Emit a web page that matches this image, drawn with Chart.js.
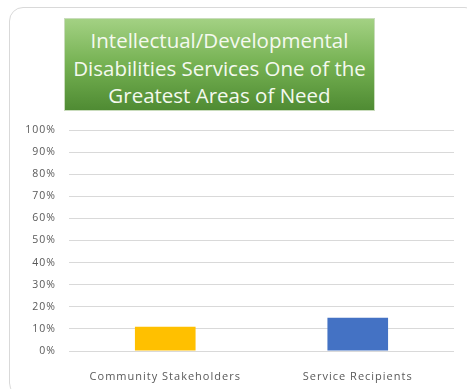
<!DOCTYPE html>
<html>
<head>
<meta charset="utf-8">
<script src="https://cdn.jsdelivr.net/npm/chart.js@4.4.1/dist/chart.umd.min.js"></script>
<style>
  html, body { margin: 0; padding: 0; background: #ffffff; }
  #wrap { position: relative; width: 467px; height: 389px; overflow: hidden; }
  #card {
    position: absolute; left: 9px; top: 7px; width: 470px; height: 390px;
    border: 1.5px solid #d9d9d9; border-radius: 14px; box-sizing: border-box;
  }
  #title {
    position: absolute; left: 64px; top: 18px; width: 311px; height: 93px;
    background: linear-gradient(to bottom, #a3d183 0%, #75b152 50%, #4f8b33 100%);
    border: 1px solid #c9dcbc; box-sizing: border-box;
    color: #f4f9ef; font-family: "Open Sans", sans-serif; font-size: 20.5px;
    line-height: 27.5px; text-align: center; padding-top: 8px; letter-spacing: 0px;
    white-space: nowrap;
  }
  #chart { position: absolute; left: 0; top: 0; }
</style>
</head>
<body>
<div id="wrap">
  <div id="card"></div>
  <div id="title">Intellectual/Developmental<br>Disabilities Services One of the<br>Greatest Areas of Need</div>
  <canvas id="chart" width="467" height="389"></canvas>
</div>
<script>
const categories = ["Community Stakeholders", "Service Recipients"];
const shareValues = [11, 15];
const barColors = ["#ffc000", "#4472c4"];
const yTicks = [0, 10, 20, 30, 40, 50, 60, 70, 80, 90, 100];

// Slightly open letter spacing for the axis labels
const spacedText = {
  id: "spacedText",
  beforeUpdate(chart) { chart.ctx.letterSpacing = "1px"; },
  beforeLayout(chart) { chart.ctx.letterSpacing = "1px"; },
  beforeDraw(chart) { chart.ctx.letterSpacing = "1px"; }
};

new Chart(document.getElementById("chart"), {
  type: "bar",
  data: {
    labels: categories,
    datasets: [{
      data: shareValues,
      backgroundColor: barColors,
      borderWidth: 0,
      categoryPercentage: 1,
      barPercentage: 0.315
    }]
  },
  plugins: [spacedText],
  options: {
    responsive: false,
    animation: false,
    layout: { padding: { top: 130, right: 13, left: 0, bottom: 0 } },
    plugins: { legend: { display: false }, tooltip: { enabled: false } },
    scales: {
      x: {
        grid: { display: false },
        border: { display: false },
        ticks: {
          color: "#595959",
          font: { family: "Open Sans", size: 11 },
          padding: 11,
          maxRotation: 0
        },
        afterFit: s => { s.height = 38; }
      },
      y: {
        min: 0, max: 100,
        afterBuildTicks: s => { s.ticks = yTicks.map(v => ({ value: v })); },
        grid: { color: "#d9d9d9", lineWidth: 1, drawTicks: false },
        border: { display: false },
        ticks: {
          color: "#595959",
          font: { family: "Open Sans", size: 10.5 },
          padding: 13,
          callback: v => v + "%"
        },
        afterFit: s => { s.width = 69; }
      }
    }
  }
});
</script>
</body>
</html>
